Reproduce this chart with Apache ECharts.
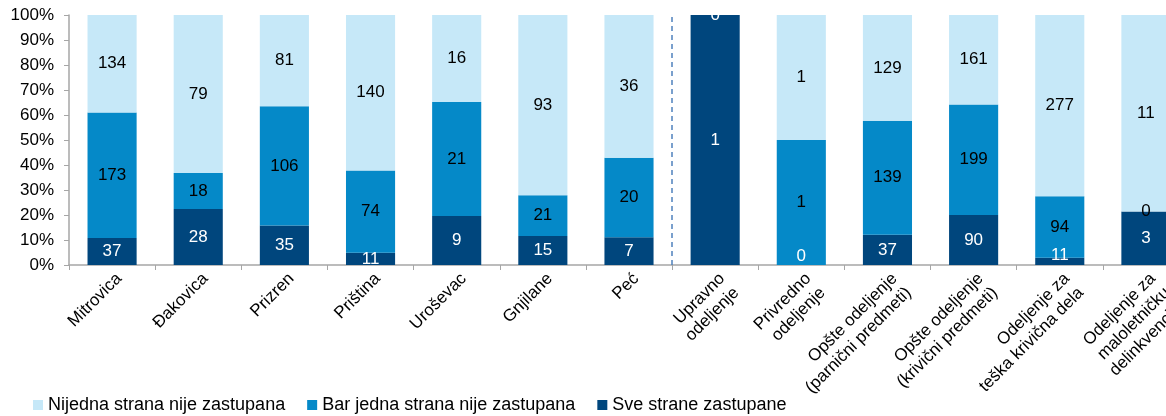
<!DOCTYPE html>
<html>
<head>
<meta charset="utf-8">
<script src="https://cdn.jsdelivr.net/npm/echarts@6/dist/echarts.min.js"></script>
<style>
  html, body { margin: 0; padding: 0; background: #fff; }
  #chart { width: 1166px; height: 416px; }
</style>
</head>
<body>
<div id="chart"></div>
<script>
// kategorije (sudovi i odeljenja)
var categories = [
  "Mitrovica", "Đakovica", "Prizren", "Priština", "Uroševac", "Gnjilane", "Peć",
  "Upravno\nodeljenje", "Privredno\nodeljenje",
  "Opšte odeljenje\n(parnični predmeti)", "Opšte odeljenje\n(krivični predmeti)",
  "Odeljenje za\nteška krivična dela", "Odeljenje za\nmaloletničku\ndelinkvenciju"
];

// broj predmeta po kategoriji
var sveStrane = [37, 28, 35, 11, 9, 15, 7, 1, 0, 37, 90, 11, 3];
var barJedna = [173, 18, 106, 74, 21, 21, 20, 0, 1, 139, 199, 94, 0];
var nijedna = [134, 79, 81, 140, 16, 93, 36, 0, 1, 129, 161, 277, 11];

var yTicks = [0, 10, 20, 30, 40, 50, 60, 70, 80, 90, 100];

var colors = { light: "#c6e8f8", mid: "#0589c8", dark: "#00467d" };
var font = "Liberation Sans, Arial, sans-serif";

// procenat od ukupnog broja u koloni
function toPercent(arr) {
  return arr.map(function (v, i) {
    var total = sveStrane[i] + barJedna[i] + nijedna[i];
    return { value: total ? (v / total) * 100 : 0, count: v };
  });
}

var darkData = toPercent(sveStrane);
var midData = toPercent(barJedna);
var lightData = toPercent(nijedna);

// pomeranje natpisa za vrlo niske segmente
darkData[8].label = { offset: [0, -9] };
darkData[11].label = { offset: [0, -6] };
midData[7].label = { show: false };
// nula na vrhu Upravnog odeljenja je bela
lightData[7].label = { color: "#fff" };

var chart = echarts.init(document.getElementById("chart"));

var labelFmt = function (p) { return p.data.count; };

var option = {
  animation: false,
  textStyle: { fontFamily: font },
  legend: {
    left: 28,
    top: 391,
    itemWidth: 10,
    itemHeight: 10,
    itemGap: 22,
    icon: "rect",
    textStyle: { fontSize: 18, color: "#000", fontFamily: font },
    data: ["Nijedna strana nije zastupana", "Bar jedna strana nije zastupana", "Sve strane zastupane"]
  },
  grid: { left: 69, top: 15, width: 1120, height: 250, outerBoundsMode: "none", containLabel: false },
  xAxis: [
    {
      type: "category",
      data: categories,
      axisLine: { lineStyle: { color: "#a6a6a6", width: 1.5 } },
      axisTick: { show: true, length: 5, lineStyle: { color: "#a6a6a6" } },
      axisLabel: {
        rotate: 45,
        interval: 0,
        fontSize: 17,
        color: "#000",
        fontFamily: font,
        lineHeight: 20,
        verticalAlign: "top",
        margin: 4
      }
    },
    { type: "value", min: 0, max: 13, show: false }
  ],
  yAxis: {
    type: "value",
    min: 0,
    max: 100,
    interval: 10,
    axisLine: { show: true, lineStyle: { color: "#a6a6a6", width: 1.5 } },
    axisTick: { show: true, length: 5, lineStyle: { color: "#a6a6a6" } },
    splitLine: { show: false },
    axisLabel: {
      formatter: function (v) { return yTicks.indexOf(v) >= 0 ? v + "%" : ""; },
      fontSize: 17,
      color: "#000",
      fontFamily: font,
      margin: 15
    }
  },
  series: [
    {
      name: "Sve strane zastupane",
      type: "bar",
      stack: "ukupno",
      barWidth: "57%",
      data: darkData,
      itemStyle: { color: colors.dark },
      label: { show: true, position: "inside", formatter: labelFmt, color: "#fff", fontSize: 17, fontFamily: font }
    },
    {
      name: "Bar jedna strana nije zastupana",
      type: "bar",
      stack: "ukupno",
      data: midData,
      itemStyle: { color: colors.mid },
      label: { show: true, position: "inside", formatter: labelFmt, color: "#000", fontSize: 17, fontFamily: font }
    },
    {
      name: "Nijedna strana nije zastupana",
      type: "bar",
      stack: "ukupno",
      data: lightData,
      itemStyle: { color: colors.light },
      label: { show: true, position: "inside", formatter: labelFmt, color: "#000", fontSize: 17, fontFamily: font }
    },
    {
      // isprekidana linija izmedju sudova i odeljenja
      type: "line",
      xAxisIndex: 1,
      data: [],
      markLine: {
        silent: true,
        symbol: "none",
        label: { show: false },
        lineStyle: { color: "#4f81bd", type: [5, 4], width: 1.5 },
        data: [{ xAxis: 7 }]
      }
    }
  ]
};

chart.setOption(option);
</script>
</body>
</html>
